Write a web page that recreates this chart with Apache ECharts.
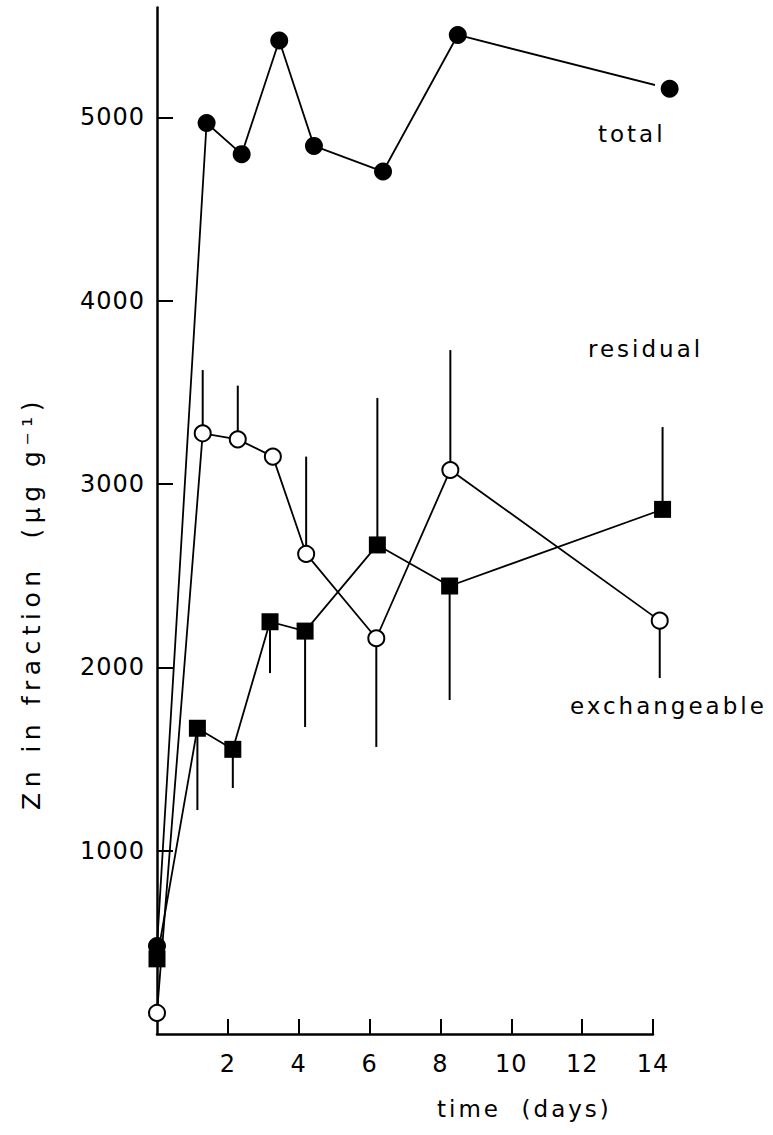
<!DOCTYPE html>
<html>
<head>
<meta charset="utf-8">
<script src="https://cdn.jsdelivr.net/npm/echarts@6/dist/echarts.min.js"></script>
<style>
html, body { margin: 0; padding: 0; background: #fff; }
#main { width: 773px; height: 1135px; }
#main text { white-space: pre; }
</style>
</head>
<body>
<div id="main"></div>
<script>
// values (time in days, Zn in ug/g)
var daysTotal = [0, 1.4, 2.39, 3.45, 4.43, 6.38, 8.49, 14.47];
var total = [480, 4970, 4800, 5420, 4845, 4705, 5450, 5157];

var daysResidual = [0, 1.29, 2.28, 3.27, 4.21, 6.19, 8.28, 14.19];
var residual = [115, 3277, 3244, 3150, 2619, 2159, 3077, 2255];
var residualErr = [null, 3622, 3537, null, 3150, 1566, 3731, 1942];

var daysExch = [0, 1.14, 2.14, 3.19, 4.18, 6.22, 8.26, 14.27];
var exch = [410, 1668, 1553, 2249, 2198, 2668, 2444, 2862];
var exchErr = [null, 1222, 1342, 1969, 1675, 3470, 1822, 3311];

var xTicks = [2, 4, 6, 8, 10, 12, 14];
var yTicks = [1000, 2000, 3000, 4000, 5000];

function pairs(xs, ys) {
    return xs.map(function (x, i) { return [x, ys[i]]; });
}
function bars(xs, ys, ends) {
    var out = [];
    xs.forEach(function (x, i) {
        if (ends[i] != null) out.push([x, ys[i], ends[i]]);
    });
    return out;
}
function errorBar(params, api) {
    var p0 = api.coord([api.value(0), api.value(1)]);
    var p1 = api.coord([api.value(0), api.value(2)]);
    return {
        type: 'line',
        shape: { x1: p0[0], y1: p0[1], x2: p1[0], y2: p1[1] },
        style: { stroke: '#000', lineWidth: 2 }
    };
}

var font = 'DejaVu Sans';
var myChart = echarts.init(document.getElementById('main'), null, { renderer: 'svg' });

option = {
    backgroundColor: '#fff',
    animation: false,
    grid: {
        left: 157,
        right: 120,
        top: 7.5,
        bottom: 101
    },
    xAxis: {
        type: 'value',
        min: 0,
        max: 14,
        axisLine: { lineStyle: { color: '#000', width: 2.5 } },
        axisTick: {
            inside: true,
            length: 15,
            customValues: xTicks,
            lineStyle: { color: '#000', width: 2 }
        },
        axisLabel: {
            customValues: xTicks,
            margin: 18,
            color: '#000',
            fontFamily: font,
            fontSize: 24,
            formatter: function (v) { return String(v); }
        },
        splitLine: { show: false }
    },
    yAxis: {
        type: 'value',
        min: 0,
        max: 5600,
        axisLine: { show: true, lineStyle: { color: '#000', width: 2.5 } },
        axisTick: {
            show: true,
            inside: true,
            length: 16,
            customValues: yTicks,
            lineStyle: { color: '#000', width: 2 }
        },
        axisLabel: {
            customValues: yTicks,
            margin: 12,
            color: '#000',
            fontFamily: font,
            fontSize: 24,
            formatter: function (v) { return String(v); }
        },
        splitLine: { show: false }
    },
    graphic: [
        { type: 'text', x: 598, y: 134, style: { text: 'total', font: '23px ' + font, fill: '#000', align: 'left', verticalAlign: 'middle' } },
        { type: 'text', x: 588, y: 349, style: { text: 'residual', font: '23px ' + font, fill: '#000', align: 'left', verticalAlign: 'middle' } },
        { type: 'text', x: 570, y: 706, style: { text: 'exchangeable', font: '23px ' + font, fill: '#000', align: 'left', verticalAlign: 'middle' } },
        { type: 'text', x: 437, y: 1109, style: { text: 'time  (days)', font: '23px ' + font, fill: '#000', align: 'left', verticalAlign: 'middle' } },
        { type: 'text', x: 31, y: 810, rotation: Math.PI / 2, style: { text: 'Zn in fraction  (\u03bcg g\u207b\u00b9)', font: '25px ' + font, fill: '#000', align: 'left', verticalAlign: 'middle' } }
    ],
    series: [
        {
            name: 'residual bars',
            type: 'custom',
            z: 1,
            renderItem: errorBar,
            encode: { x: 0, y: [1, 2] },
            data: bars(daysResidual, residual, residualErr)
        },
        {
            name: 'exchangeable bars',
            type: 'custom',
            z: 1,
            renderItem: errorBar,
            encode: { x: 0, y: [1, 2] },
            data: bars(daysExch, exch, exchErr)
        },
        {
            name: 'total',
            type: 'line',
            z: 2,
            clip: false,
            symbol: 'circle',
            symbolSize: 18,
            itemStyle: { color: '#000' },
            lineStyle: { color: '#000', width: 1.8 },
            data: pairs(daysTotal, total)
        },
        {
            name: 'exchangeable',
            type: 'line',
            z: 3,
            clip: false,
            symbol: 'rect',
            symbolSize: 17,
            itemStyle: { color: '#000' },
            lineStyle: { color: '#000', width: 1.8 },
            data: pairs(daysExch, exch)
        },
        {
            name: 'residual',
            type: 'line',
            z: 4,
            clip: false,
            symbol: 'circle',
            symbolSize: 16,
            itemStyle: { color: '#fff', borderColor: '#000', borderWidth: 2 },
            lineStyle: { color: '#000', width: 1.8 },
            data: pairs(daysResidual, residual)
        }
    ]
};
myChart.setOption(option);

// the lettering in the figure is widely spaced
function spaceText() {
    var texts = document.querySelectorAll('#main text');
    texts.forEach(function (t) {
        var s = t.textContent;
        if (/^Zn/.test(s)) t.style.letterSpacing = '5.5px';
        else if (/^\d+$/.test(s)) t.style.letterSpacing = '1px';
        else t.style.letterSpacing = '3px';
    });
}
spaceText();
myChart.on('finished', spaceText);

window.addEventListener("resize", function () {
    myChart.resize();
});
</script>
</body>
</html>
